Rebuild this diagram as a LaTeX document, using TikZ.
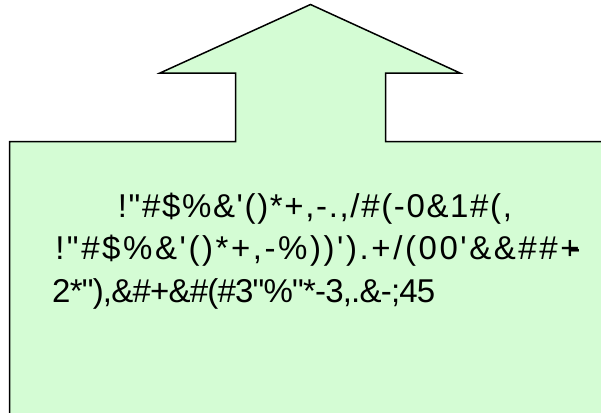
\documentclass[tikz,border=0pt]{standalone}
\usepackage{fontspec}
\newfontfamily\arialA[LetterSpace=5]{Liberation Sans}
\newfontfamily\arialB[LetterSpace=7.8]{Liberation Sans}
\newfontfamily\arialC[LetterSpace=-2.4]{Liberation Sans}
\definecolor{calloutfill}{RGB}{212,252,212}
\tikzset{
  callout/.style={draw=black, line width=1.5pt, fill=calloutfill, line join=miter},
  txt/.style={font=\fontsize{33}{38}\selectfont, text=black, inner sep=0pt, anchor=base}
}
\begin{document}
\begin{tikzpicture}[x=1pt,y=-1pt]
\clip (0,0) rectangle (601,412);
\draw[callout] (9.5,430) -- (9.5,141.5) -- (235.5,141.5) -- (235.5,73) -- (160,73)
  -- (310.5,4.5) -- (460,73) -- (385.5,73) -- (385.5,141.5) -- (612,141.5) -- (612,430) -- cycle;
\node[txt] (l1) at (315,217) {\arialA !"\#\$\%\&'()*+,-.,/\#(-0\&1\#(,};
\node[txt] (l2) at (318,259) {\arialB !"\#\$\%\&'()*+,-\%))').+/(00'\&\&\#\#+\kern-0.3em-};
\node[txt, anchor=base west] (l3) at (52,302) {\arialC 2*"),\&\#+\&\#(\#3"\%"*-3,.\&-;45};
\end{tikzpicture}
\end{document}
